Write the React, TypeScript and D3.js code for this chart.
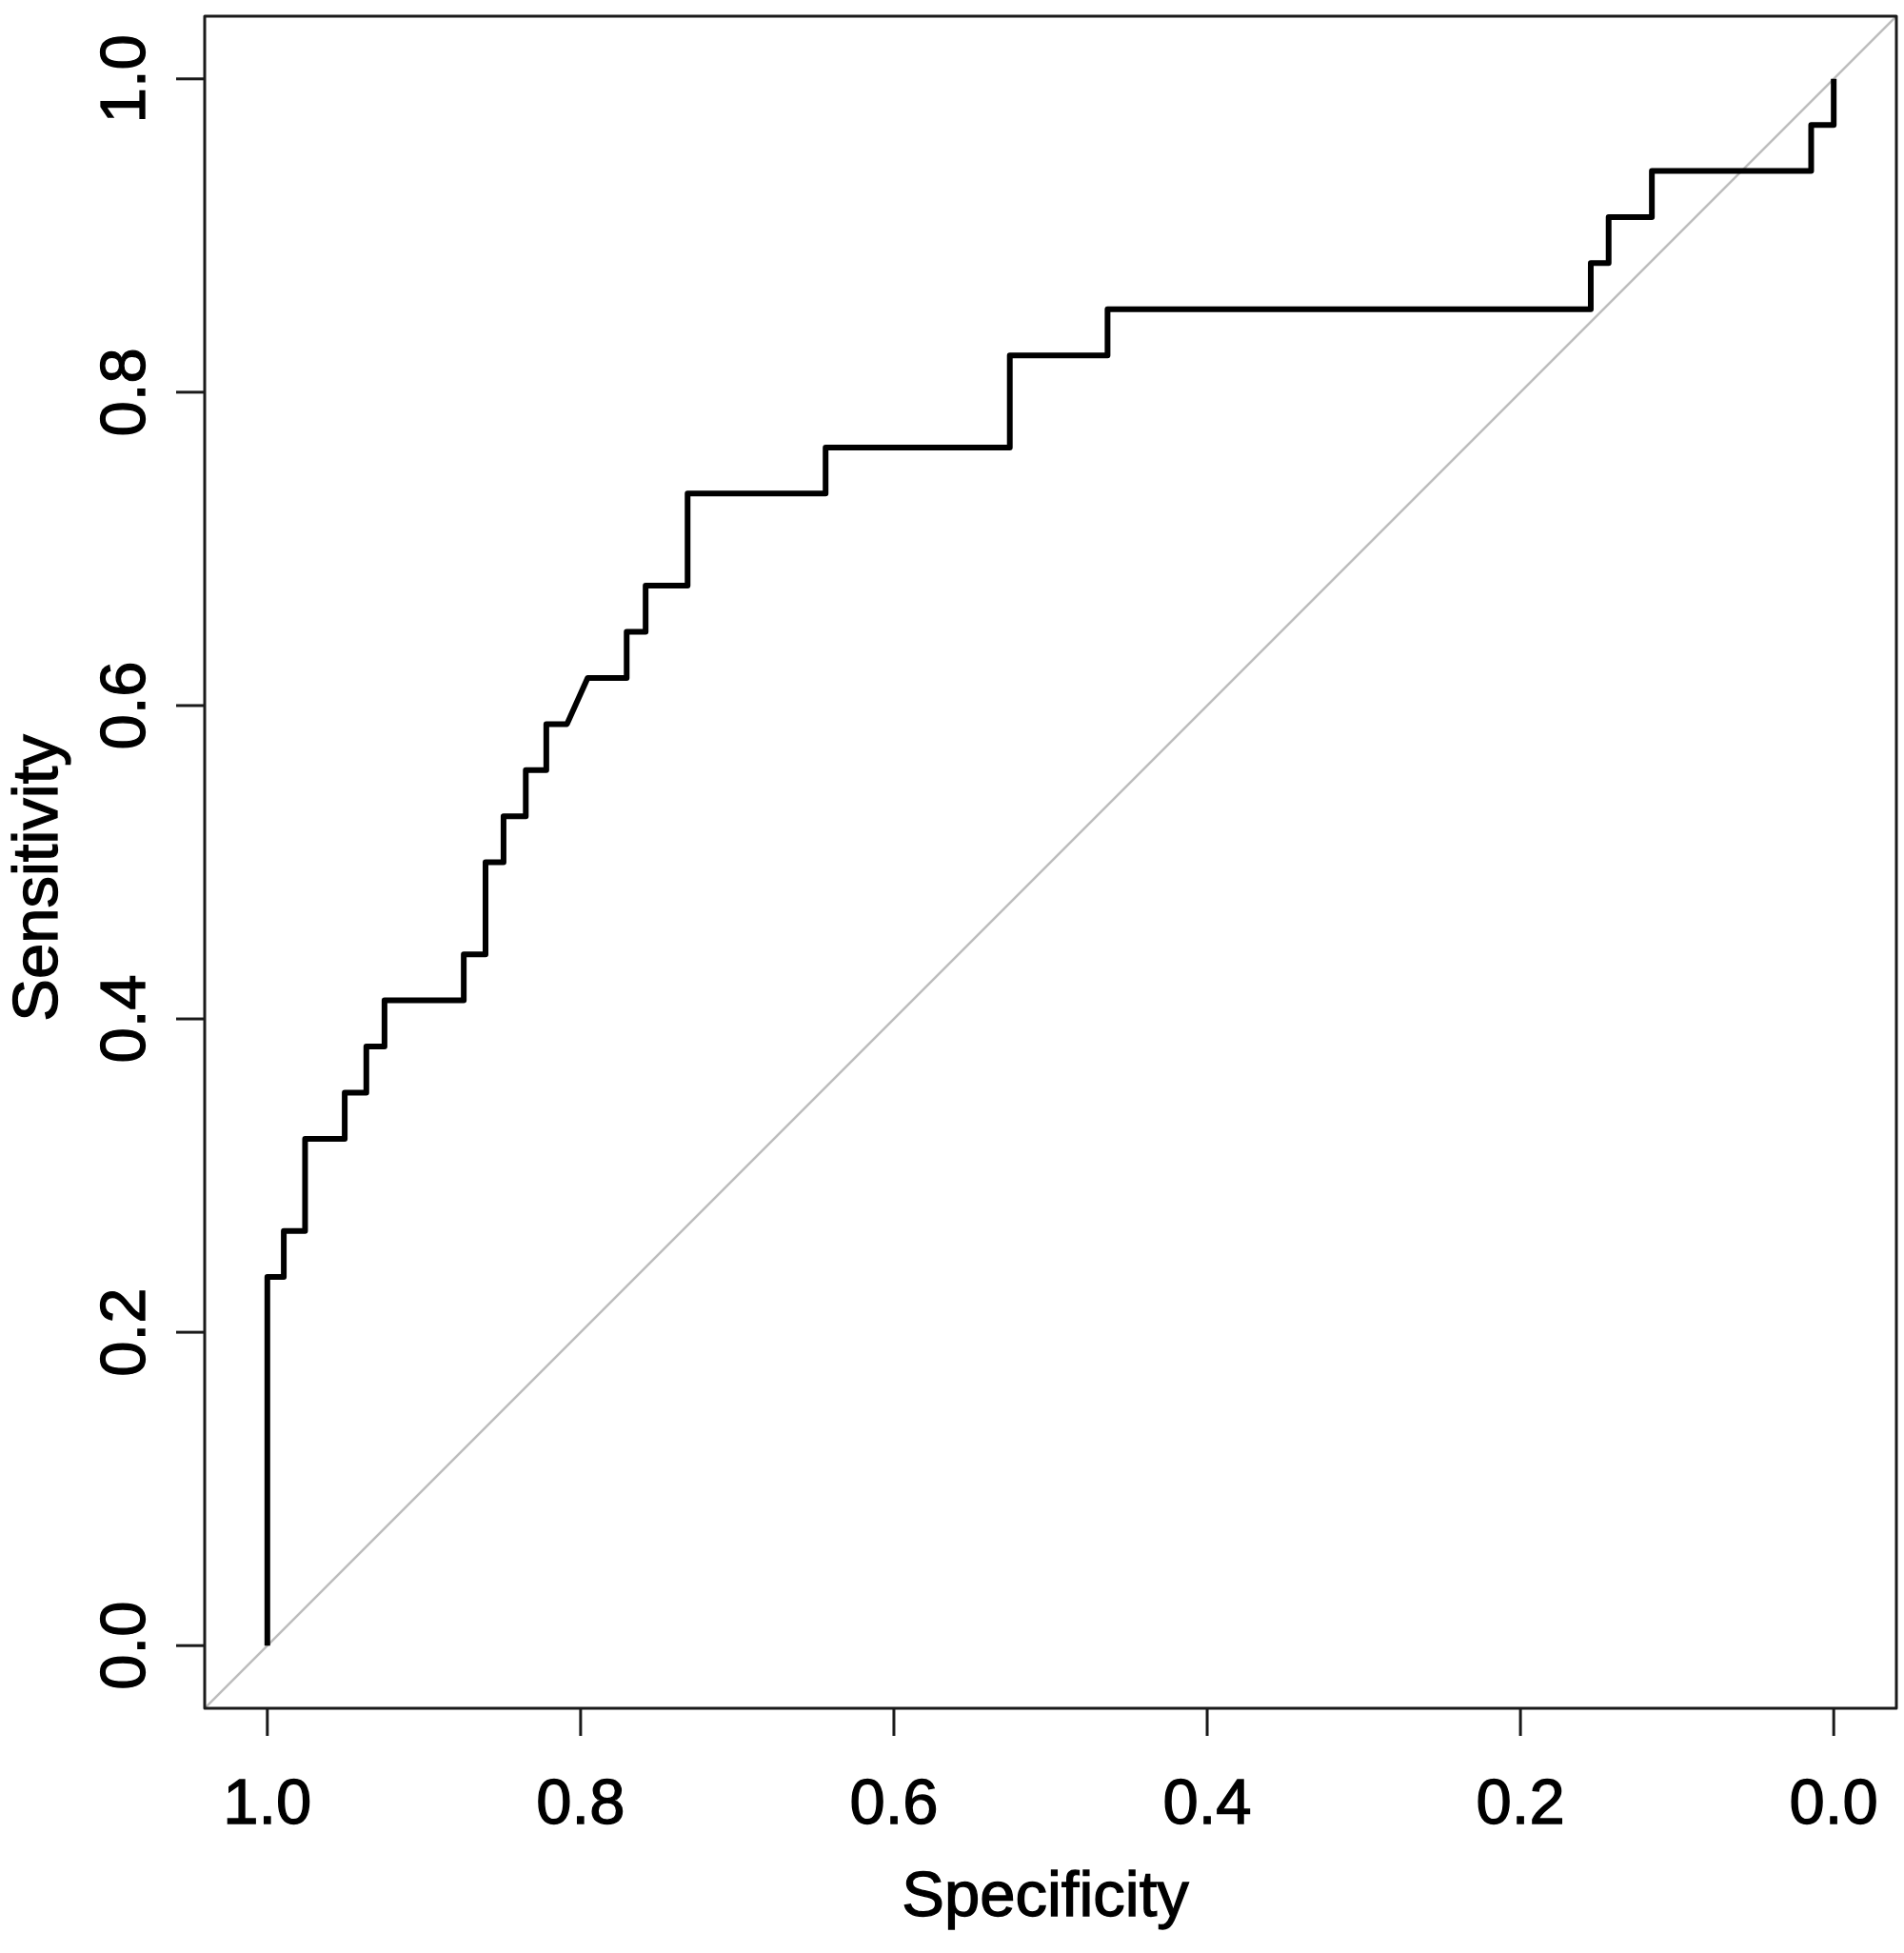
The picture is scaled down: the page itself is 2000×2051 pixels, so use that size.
import React from "react";
import * as d3 from "d3";

// ROC curve vertices (specificity, sensitivity)
const specificity = [
  1.0, 1.0, 0.9895, 0.9895, 0.9759, 0.9759, 0.9506, 0.9506, 0.9368, 0.9368,
  0.9252, 0.9252, 0.8746, 0.8746, 0.8607, 0.8607, 0.8492, 0.8492, 0.835, 0.835,
  0.8219, 0.8219, 0.8087, 0.7955, 0.7706, 0.7706, 0.7585, 0.7585, 0.7317, 0.7317,
  0.6436, 0.6436, 0.526, 0.526, 0.4636, 0.4636, 0.1551, 0.1551, 0.1437, 0.1437,
  0.1161, 0.1161, 0.0144, 0.0144, 0.0, 0.0,
];
const sensitivity = [
  0.0, 0.2353, 0.2353, 0.2647, 0.2647, 0.3235, 0.3235, 0.3529, 0.3529, 0.3824,
  0.3824, 0.4118, 0.4118, 0.4412, 0.4412, 0.5, 0.5, 0.5294, 0.5294, 0.5588,
  0.5588, 0.5882, 0.5882, 0.6176, 0.6176, 0.6471, 0.6471, 0.6765, 0.6765, 0.7353,
  0.7353, 0.7647, 0.7647, 0.8235, 0.8235, 0.8529, 0.8529, 0.8824, 0.8824, 0.9118,
  0.9118, 0.9412, 0.9412, 0.9706, 0.9706, 1.0,
];

const xTicks = [1.0, 0.8, 0.6, 0.4, 0.2, 0.0];
const yTicks = [0.0, 0.2, 0.4, 0.6, 0.8, 1.0];
const xTickLabels = ["1.0", "0.8", "0.6", "0.4", "0.2", "0.0"];
const yTickLabels = ["0.0", "0.2", "0.4", "0.6", "0.8", "1.0"];
const xLabel = "Specificity";
const yLabel = "Sensitivity";

const FONT = "'Liberation Sans', Arial, Helvetica, sans-serif";

export default function App() {
  const W = 2000;
  const H = 2051;
  const x = d3.scaleLinear().domain([1.04, -0.04]).range([215, 1992]);
  const y = d3.scaleLinear().domain([-0.04, 1.04]).range([1794, 17]);

  const pts: [number, number][] = specificity.map((s, i) => [s, sensitivity[i]]);
  const line = d3
    .line<[number, number]>()
    .x((d) => x(d[0]))
    .y((d) => y(d[1]));

  const [x0, x1] = x.range();
  const [y0, y1] = y.range();
  const fs = 67;
  const textProps = {
    fontFamily: FONT,
    fontSize: fs,
    fill: "#000",
    stroke: "#000",
    strokeWidth: 1.3,
  };

  return (
    <svg
      width={W}
      height={H}
      viewBox={`0 0 ${W} ${H}`}
      style={{ position: "absolute", left: 0, top: 0, background: "#fff" }}
    >
      <rect x={0} y={0} width={W} height={H} fill="#fff" />
      <defs>
        <clipPath id="plotclip">
          <rect x={x0} y={y1} width={x1 - x0} height={y0 - y1} />
        </clipPath>
      </defs>
      {/* diagonal reference line */}
      <line
        x1={x(1.04)}
        y1={y(-0.04)}
        x2={x(-0.04)}
        y2={y(1.04)}
        stroke="#bdbdbd"
        strokeWidth={2.5}
        clipPath="url(#plotclip)"
      />
      {/* ROC curve */}
      <path
        d={line(pts) || ""}
        fill="none"
        stroke="#000"
        strokeWidth={6}
        strokeLinejoin="round"
        strokeLinecap="butt"
      />
      {/* box */}
      <rect
        x={x0}
        y={y1}
        width={x1 - x0}
        height={y0 - y1}
        fill="none"
        stroke="#1a1a1a"
        strokeWidth={3}
        strokeLinejoin="round"
      />
      {/* x axis ticks */}
      {xTicks.map((t, i) => (
        <g key={"xt" + i}>
          <line x1={x(t)} x2={x(t)} y1={y0} y2={y0 + 29} stroke="#1a1a1a" strokeWidth={3} />
          <text x={x(t)} y={1915} textAnchor="middle" {...textProps}>
            {xTickLabels[i]}
          </text>
        </g>
      ))}
      {/* y axis ticks */}
      {yTicks.map((t, i) => (
        <g key={"yt" + i}>
          <line x1={x0 - 30} x2={x0} y1={y(t)} y2={y(t)} stroke="#1a1a1a" strokeWidth={3} />
          <text
            transform={`translate(152,${y(t)}) rotate(-90)`}
            textAnchor="middle"
            {...textProps}
          >
            {yTickLabels[i]}
          </text>
        </g>
      ))}
      {/* axis titles */}
      <text x={1098} y={2012} textAnchor="middle" {...textProps}>
        {xLabel}
      </text>
      <text
        transform={`translate(60,922) rotate(-90)`}
        textAnchor="middle"
        {...textProps}
      >
        {yLabel}
      </text>
    </svg>
  );
}
